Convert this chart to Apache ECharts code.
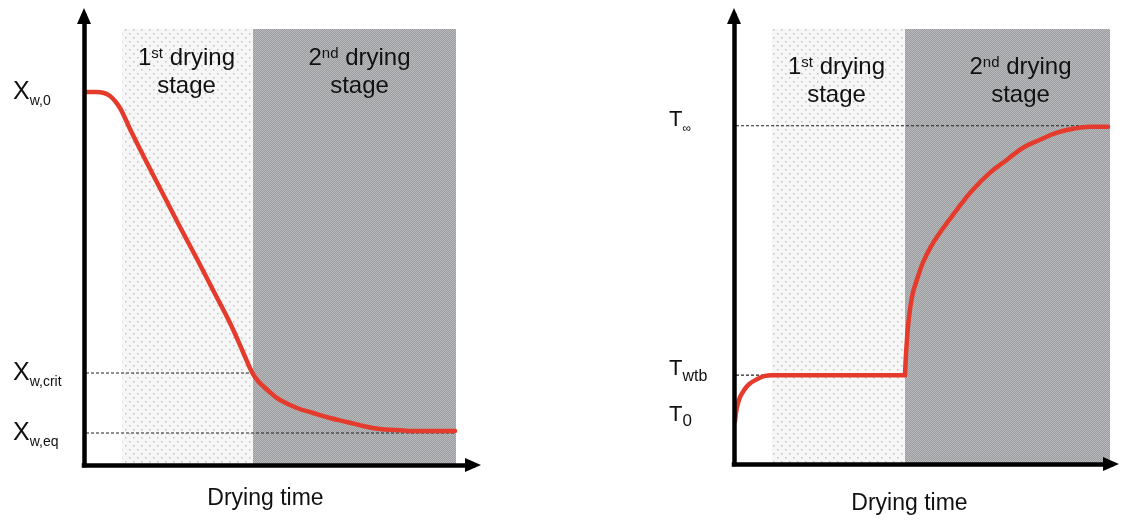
<!DOCTYPE html>
<html>
<head>
<meta charset="utf-8">
<script src="https://cdn.jsdelivr.net/npm/echarts@6/dist/echarts.min.js"></script>
<style>
html,body{margin:0;padding:0;background:#fff;}
#chart{width:1122px;height:520px;}
</style>
</head>
<body>
<div id="chart"></div>
<script>
// ---------- data (arbitrary units) ----------
// Left panel: moisture content vs drying time
const leftTime     = [1, 12, 20, 26, 31, 36, 41, 46, 63, 79, 96, 113, 129, 146, 159, 165, 169, 174, 180, 188, 196, 213, 229, 246, 263, 279, 296, 313, 329, 350, 371];
const leftMoisture = [373, 373, 372, 369, 364, 357, 347, 336, 302, 271, 238, 206, 175, 142, 113, 99, 91, 84, 78, 71, 65, 57, 52, 47, 43, 39, 36, 35, 34, 34, 34];
const leftYTickValues = [373, 92, 32];
const leftYTickMain   = ['X', 'X', 'X'];
const leftYTickSub    = ['w,0', 'w,crit', 'w,eq'];
const leftStageBounds = [38, 169, 372];
const leftCritLine = [[2, 92], [166, 92]];
const leftEqLine   = [[2, 32], [372, 32]];

// Right panel: temperature vs drying time (warm-up + constant wet-bulb, then heating)
const rightRiseTime = [1, 3, 6, 10, 15, 23, 30, 38, 171];
const rightRiseTemp = [43, 57, 67, 74, 80, 85, 88, 89, 89];
const rightHeatTime = [171, 172, 173, 174, 176, 179, 184, 189, 197, 206, 223, 239, 256, 273, 289, 306, 323, 339, 356, 374];
const rightHeatTemp = [89, 110, 125, 138, 155, 172, 188, 202, 218, 232, 255, 275, 292, 305, 317, 325, 332, 336, 338, 338];
const rightYTickValues = [339, 89, 43];
const rightYTickMain   = ['T', 'T', 'T'];
const rightYTickSub    = ['∞', 'wtb', '0'];
const rightStageBounds = [38, 171, 376];
const rightInfLine = [[2, 339], [376, 339]];
const rightWtbLine = [[2, 89], [36, 89]];

const stageTop = 436;
const stageOrdinal = ['1', '2'];
const stageSuffix  = ['st', 'nd'];
const stageWords   = [' drying', 'stage'];
const xAxisName = 'Drying time';

// ---------- styling helpers ----------
const FONT = '"Liberation Sans", Arial, sans-serif';
const RED = '#e53b2c';

function dotPattern() {
  const c = document.createElement('canvas');
  c.width = 8; c.height = 8;
  const g = c.getContext('2d');
  g.fillStyle = '#f6f6f6'; g.fillRect(0, 0, 8, 8);
  g.fillStyle = '#c2c2c2';
  g.fillRect(1, 1, 1.5, 1.5);
  g.fillRect(5, 5, 1.5, 1.5);
  return c;
}
function checkerPattern() {
  const c = document.createElement('canvas');
  c.width = 2; c.height = 2;
  const g = c.getContext('2d');
  g.fillStyle = '#9a9c9f'; g.fillRect(0, 0, 2, 2);
  g.fillStyle = '#b9babc'; g.fillRect(0, 0, 1, 1); g.fillRect(1, 1, 1, 1);
  return c;
}
const lightFill = { image: dotPattern(), repeat: 'repeat' };
const darkFill  = { image: checkerPattern(), repeat: 'repeat' };

function stageText(i) {
  return '{n|' + stageOrdinal[i] + '}{sup|' + stageSuffix[i] + '}{n|' + stageWords[0] + '}\n{n|' + stageWords[1] + '}';
}
const stageRich = {
  n:   { fontSize: 24, lineHeight: 28, fontFamily: FONT, color: '#111' },
  sup: { fontSize: 15, lineHeight: 15, fontFamily: FONT, color: '#111', verticalAlign: 'top', padding: [2, 0, 0, 0] }
};

function stageAreas(bounds, dist, offs) {
  return [
    [{ xAxis: bounds[0], yAxis: 0, itemStyle: { color: lightFill },
       label: { formatter: stageText(0), offset: [offs[0], dist] } },
     { xAxis: bounds[1], yAxis: stageTop }],
    [{ xAxis: bounds[1], yAxis: 0, itemStyle: { color: darkFill },
       label: { formatter: stageText(1), offset: [offs[1], dist] } },
     { xAxis: bounds[2], yAxis: stageTop }]
  ];
}

function axisLineStyle() {
  return { show: true, symbol: ['none', 'triangle'], symbolSize: [14, 16],
           lineStyle: { color: '#000', width: 4.5, cap: 'square' } };
}

function yAxisCfg(gridIndex, values, mains, subs, margin, pad, mainSize, subSizes) {
  const rich = { m: { fontSize: mainSize, lineHeight: mainSize + 4, fontFamily: FONT, color: '#111' } };
  subs.forEach((s, i) => {
    rich['s' + i] = { fontSize: subSizes[i], fontFamily: FONT, color: '#111', verticalAlign: 'bottom', padding: [0, 0, -2, 0] };
  });
  return {
    type: 'value', gridIndex, min: 0, max: 449, z: 10,
    axisLine: axisLineStyle(),
    axisTick: { show: false },
    splitLine: { show: false },
    axisLabel: {
      show: true, customValues: values, align: 'left', margin, padding: pad,
      formatter: (v) => { const i = values.indexOf(v); return i < 0 ? '' : '{m|' + mains[i] + '}{s' + i + '|' + subs[i] + '}'; },
      rich
    }
  };
}

function xAxisCfg(gridIndex, max, gap) {
  return {
    type: 'value', gridIndex, min: 0, max, z: 10,
    axisLine: axisLineStyle(),
    axisTick: { show: false }, axisLabel: { show: false }, splitLine: { show: false },
    name: xAxisName, nameLocation: 'middle', nameGap: gap,
    nameTextStyle: { fontSize: 23, fontFamily: FONT, color: '#111', padding: [0, 26, 0, 0] }
  };
}

function zip(a, b) { return a.map((v, i) => [v, b[i]]); }

function dashed(name, pts, xi) {
  return { name, type: 'line', xAxisIndex: xi, yAxisIndex: xi, data: pts, symbol: 'none', z: 4,
           lineStyle: { color: '#222', width: 1.2, type: [3, 2] }, silent: true };
}
function redCurve(name, pts, xi) {
  return { name, type: 'line', xAxisIndex: xi, yAxisIndex: xi, data: pts, symbol: 'none',
           smooth: 0.4, z: 5, lineStyle: { color: RED, width: 4.5, cap: 'round', join: 'round' } };
}

const chart = echarts.init(document.getElementById('chart'), null, { renderer: 'canvas' });
chart.setOption({
  animation: false,
  backgroundColor: '#fff',
  grid: [
    { left: 84, top: 16, width: 389, height: 449 },
    { left: 734, top: 16, width: 377, height: 449 }
  ],
  xAxis: [ xAxisCfg(0, 389, 22), xAxisCfg(1, 377, 28) ],
  yAxis: [
    yAxisCfg(0, leftYTickValues, leftYTickMain, leftYTickSub, 71, [0, 0, 0, 0], 25, [14, 14, 14]),
    yAxisCfg(1, rightYTickValues, rightYTickMain, rightYTickSub, 65, [0, 0, 12, 0], 22, [12, 16, 17])
  ],
  series: [
    { name: 'stagesL', type: 'line', xAxisIndex: 0, yAxisIndex: 0, data: [], z: 1,
      markArea: { silent: true,
        label: { show: true, position: 'insideTop', rich: stageRich, align: 'center' },
        data: stageAreas(leftStageBounds, 10, [-1, 5]) } },
    { name: 'stagesR', type: 'line', xAxisIndex: 1, yAxisIndex: 1, data: [], z: 1,
      markArea: { silent: true,
        label: { show: true, position: 'insideTop', rich: stageRich, align: 'center' },
        data: stageAreas(rightStageBounds, 19, [-2, 13]) } },
    dashed('critL', leftCritLine, 0),
    dashed('eqL', leftEqLine, 0),
    dashed('infR', rightInfLine, 1),
    dashed('wtbR', rightWtbLine, 1),
    redCurve('moisture', zip(leftTime, leftMoisture), 0),
    redCurve('temperatureRise', zip(rightRiseTime, rightRiseTemp), 1),
    redCurve('temperatureHeat', zip(rightHeatTime, rightHeatTemp), 1)
  ]
});
</script>
</body>
</html>
